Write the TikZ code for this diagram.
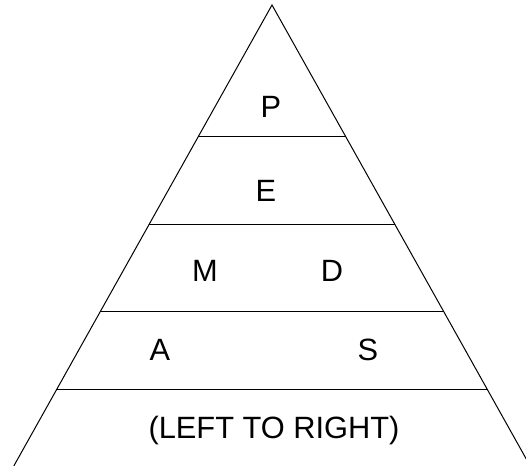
\documentclass[tikz,border=0pt]{standalone}
\usepackage{fontspec}
\setmainfont{Liberation Sans}
\begin{document}
\begin{tikzpicture}[x=0.5pt,y=-0.5pt,line width=0.5pt,
  lab/.style={font=\fontsize{15.4}{18}\selectfont}]
\useasboundingbox (0,0) rectangle (526,466);
\clip (0,0) rectangle (526,466);

\draw (13.8,466) -- (272,5) -- (530.2,466);

\draw (198.6,136) -- (345.4,136);
\draw (149.4,224) -- (394.6,224);
\draw (100.6,311) -- (443.4,311);
\draw (56.9,389) -- (487.1,389);

\node[lab] (p) at (271,107) {P};
\node[lab] (e) at (266,191) {E};
\node[lab] (m) at (205,271) {M};
\node[lab] (d) at (332,271) {D};
\node[lab] (a) at (160,350) {A};
\node[lab] (s) at (368,350) {S};
\node[lab] (dir) at (274,431) {(LEFT TO RIGHT)};
\end{tikzpicture}
\end{document}
